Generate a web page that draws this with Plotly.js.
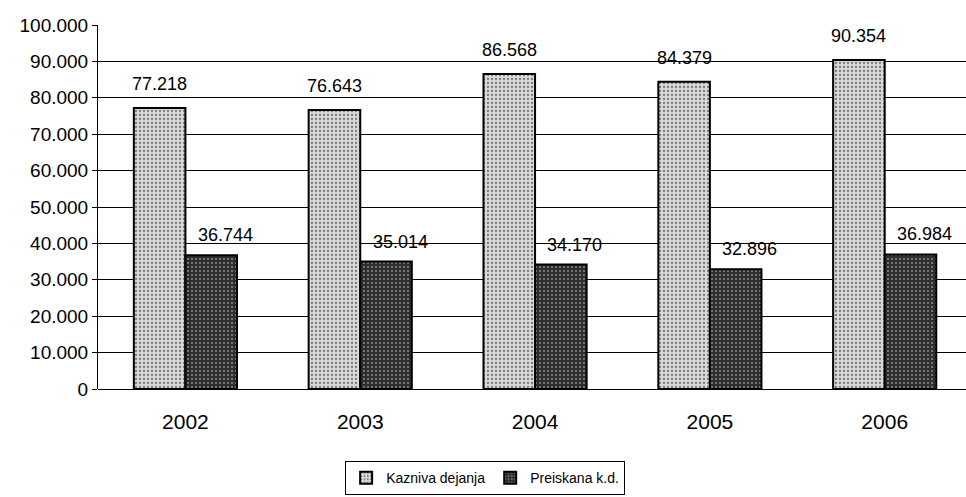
<!DOCTYPE html>
<html><head><meta charset="utf-8">
<script src="https://cdn.plot.ly/plotly-3.0.1.min.js"></script>
<style>body{margin:0;background:#fff}#c{width:966px;height:497px}</style>
</head><body><div id="c"></div>
<script>
var years = ['2002','2003','2004','2005','2006'];
var kaznivaDejanja = [77218, 76643, 86568, 84379, 90354];
var preiskanaKD = [36744, 35014, 34170, 32896, 36984];
var yTicks = [0,10000,20000,30000,40000,50000,60000,70000,80000,90000,100000];

var fam = 'Arial, Liberation Sans, sans-serif';
var bargap = 0.41;
var half = (1 - bargap) / 4;
function fmt(v){ return String(v).replace(/\B(?=(\d{3})+(?!\d))/g, '.'); }

var traces = [
 {type:'bar', name:'Kazniva dejanja', x:years, y:kaznivaDejanja,
  marker:{color:'#d4d4d4', line:{color:'#000', width:2},
   pattern:{shape:'.', bgcolor:'#d9d9d9', fgcolor:'#7a7a7a', size:4, solidity:0.25}}},
 {type:'bar', name:'Preiskana k.d.', x:years, y:preiskanaKD,
  marker:{color:'#3a3a3a', line:{color:'#000', width:2},
   pattern:{shape:'.', bgcolor:'#2e2e2e', fgcolor:'#8a8a8a', size:4, solidity:0.2}}}
];
var annotations = [];
[kaznivaDejanja, preiskanaKD].forEach(function(series, s){
  series.forEach(function(v, i){
    annotations.push({x: i + (s === 0 ? -half : half), y: v, xref:'x', yref:'y',
      text: fmt(v), showarrow:false, yanchor:'bottom',
      yshift: s === 0 ? 12 : 8, xshift: s === 0 ? 0 : 14,
      font:{family:fam, size:18, color:'#000'}});
  });
});
var layout = {
 width:966, height:497, font:{family:fam, size:18, color:'#000'},
 margin:{l:98, r:0, t:25, b:108},
 paper_bgcolor:'#fff', plot_bgcolor:'#fff',
 barmode:'group', bargap:bargap, bargroupgap:0,
 separators:',.',
 annotations: annotations,
 xaxis:{type:'category', range:[-0.5,4.465], showgrid:false, showline:false, ticks:'', tickfont:{size:21}, ticklabelstandoff:18},
 yaxis:{range:[0,100000], tickvals:yTicks, tickformat:',d', showgrid:true, gridcolor:'#000', gridwidth:1,
  showline:true, linecolor:'#000', linewidth:1, ticks:'outside', ticklen:5, tickcolor:'#000',
  zeroline:true, zerolinecolor:'#000', zerolinewidth:1, tickfont:{size:19}},
 showlegend:true,
 legend:{orientation:'h', x:0.446, xanchor:'center', y:-0.198, yanchor:'top',
  bordercolor:'#000', borderwidth:1, font:{size:14}, traceorder:'normal'}
};
Plotly.newPlot('c', traces, layout, {staticPlot:true});
</script></body></html>
